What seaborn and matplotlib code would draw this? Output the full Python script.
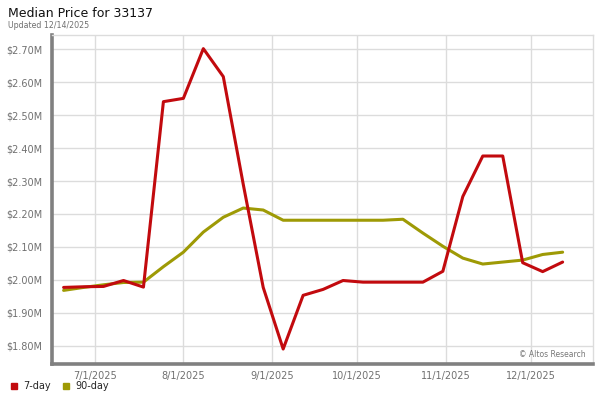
import numpy as np
import pandas as pd
import seaborn as sns
import matplotlib.pyplot as plt
import matplotlib.dates as mdates
import matplotlib.ticker as mticker
from matplotlib.lines import Line2D

# weekly data points, Friday 6/20/2025 through 12/12/2025 (values in $M)
dates = pd.date_range("2025-06-20", "2025-12-12", freq="7D")
price_7day = [1.977, 1.979, 1.980, 1.998, 1.978, 2.541, 2.551, 2.702, 2.617, 2.290,
              1.977, 1.790, 1.953, 1.971, 1.998, 1.993, 1.993, 1.993, 1.993, 2.026,
              2.253, 2.376, 2.376, 2.052, 2.025, 2.054]
price_90day = [1.968, 1.977, 1.985, 1.992, 1.993, 2.040, 2.084, 2.145, 2.190, 2.218,
               2.212, 2.181, 2.181, 2.181, 2.181, 2.181, 2.181, 2.184, 2.142, 2.102,
               2.066, 2.048, 2.054, 2.060, 2.077, 2.084]
series_names = ["7-day", "90-day"]
colors = ["#c20a0e", "#9e9a05"]

df = pd.DataFrame({
    "date": list(dates) * 2,
    "price": [v * 1e6 for v in price_7day + price_90day],
    "series": [series_names[0]] * len(dates) + [series_names[1]] * len(dates),
})

sns.set_style("white")
plt.rcParams["font.family"] = ["DejaVu Sans"]

fig = plt.figure(figsize=(6, 4), dpi=100)
ax = fig.add_axes([0.087, 0.09, 0.901, 0.8225])

# 90-day drawn first so the 7-day line sits on top
sns.lineplot(data=df, x="date", y="price", hue="series", hue_order=series_names[::-1],
             palette=colors[::-1], linewidth=2.2, legend=False, ax=ax)

ax.set_xlim(pd.Timestamp("2025-06-16"), pd.Timestamp("2025-12-22 14:00"))
ax.set_ylim(1.7445e6, 2.7434e6)
ax.yaxis.set_major_locator(mticker.MultipleLocator(1e5))
ax.yaxis.set_major_formatter(mticker.FuncFormatter(lambda v, p: f"${v/1e6:.2f}M"))
ax.xaxis.set_major_locator(mdates.MonthLocator())
ax.xaxis.set_major_formatter(mticker.FuncFormatter(
    lambda v, p: f"{mdates.num2date(v).month}/1/{mdates.num2date(v).year}"))
ax.set_xlabel("")
ax.set_ylabel("")

ax.grid(True, color="#dcdcdc", linewidth=1)
ax.set_axisbelow(True)
ax.tick_params(axis="both", length=0, labelsize=7, labelcolor="#707070")
ax.tick_params(axis="y", pad=7)
ax.tick_params(axis="x", pad=5)
for s in ["top", "right"]:
    ax.spines[s].set_color("#dcdcdc")
    ax.spines[s].set_linewidth(1)
for s in ["left", "bottom"]:
    ax.spines[s].set_color("#808080")
    ax.spines[s].set_linewidth(2.6)

ax.text(0.987, 0.022, "\u00a9 Altos Research", transform=ax.transAxes,
        ha="right", va="baseline", fontsize=5.5, color="#777777")

fig.text(0.013, 0.957, "Median Price for 33137", fontsize=9, color="#111111", va="baseline")
fig.text(0.013, 0.931, "Updated 12/14/2025", fontsize=5.7, color="#707070", va="baseline")

handles = [Line2D([], [], marker="s", linestyle="", color=c, markersize=4.3) for c in colors]
fig.legend(handles, series_names, loc="lower left", bbox_to_anchor=(0.0, 0.0),
           ncol=2, frameon=False, fontsize=7, handletextpad=0.5, columnspacing=1.0,
           handlelength=1.0, borderaxespad=0.5)

fig.savefig("out.png", dpi=100)
